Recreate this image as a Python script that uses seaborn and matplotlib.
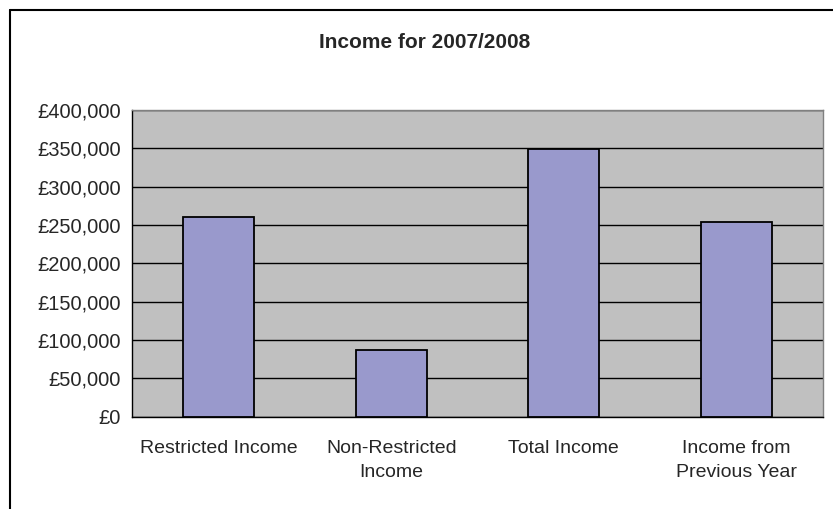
import matplotlib
matplotlib.use("Agg")
import numpy as np
import pandas as pd
import matplotlib.pyplot as plt
from matplotlib.lines import Line2D
import seaborn as sns

# data
categories = ["Restricted Income", "Non-Restricted\nIncome", "Total Income", "Income from\nPrevious Year"]
income = [261000, 87000, 349000, 254000]
y_ticks = [0, 50000, 100000, 150000, 200000, 250000, 300000, 350000, 400000]
title = "Income for 2007/2008"

df = pd.DataFrame({"category": categories, "income": income})

sns.set_style("white")
plt.rcParams['font.family'] = ['Liberation Sans', 'DejaVu Sans']

fig = plt.figure(figsize=(8.33, 5.09), dpi=100)
ax = fig.add_axes([132.3 / 833, 1 - 416.7 / 509, (822.7 - 132.3) / 833, (416.7 - 110) / 509])
ax.set_facecolor("#c0c0c0")

sns.barplot(data=df, x="category", y="income", color="#9999cc", saturation=1,
            width=0.41, edgecolor="black", linewidth=1.3, ax=ax, zorder=3)

ax.set_ylim(0, 400000)
ax.set_xlim(-0.5, len(categories) - 0.5)
ax.set_yticks(y_ticks)
ax.set_yticklabels(["£{:,}".format(v) for v in y_ticks], fontsize=14.5)
ax.set_xticklabels(categories, fontsize=14, linespacing=1.55)
ax.set_xlabel("")
ax.set_ylabel("")

# category boundary ticks on the x axis
ax.set_xticks(np.arange(-0.5, len(categories), 1.0), minor=True)
ax.tick_params(axis="x", which="major", length=0, pad=17)
ax.tick_params(axis="x", which="minor", length=5, width=0.8, direction="out", color="black")
ax.tick_params(axis="y", length=5, width=0.8, direction="out", color="black", pad=3)

ax.yaxis.grid(True, color="black", linewidth=1.0, zorder=1)
ax.set_axisbelow(True)
for side in ["left", "bottom"]:
    ax.spines[side].set_color("black")
    ax.spines[side].set_linewidth(1.0)
for side in ["top", "right"]:
    ax.spines[side].set_color("#808080")
    ax.spines[side].set_linewidth(1.0)

fig.text(425 / 833, 1 - 42 / 509, title, ha="center", va="center",
         fontsize=15, fontweight="bold")

# chart frame (left and top edges)
x0 = 10 / 833
y0 = 1 - 10 / 509
fig.add_artist(Line2D([x0, x0], [0, y0], transform=fig.transFigure, color="black", linewidth=1.5))
fig.add_artist(Line2D([x0, 1], [y0, y0], transform=fig.transFigure, color="black", linewidth=1.5))

fig.savefig("out.png", dpi=100)
